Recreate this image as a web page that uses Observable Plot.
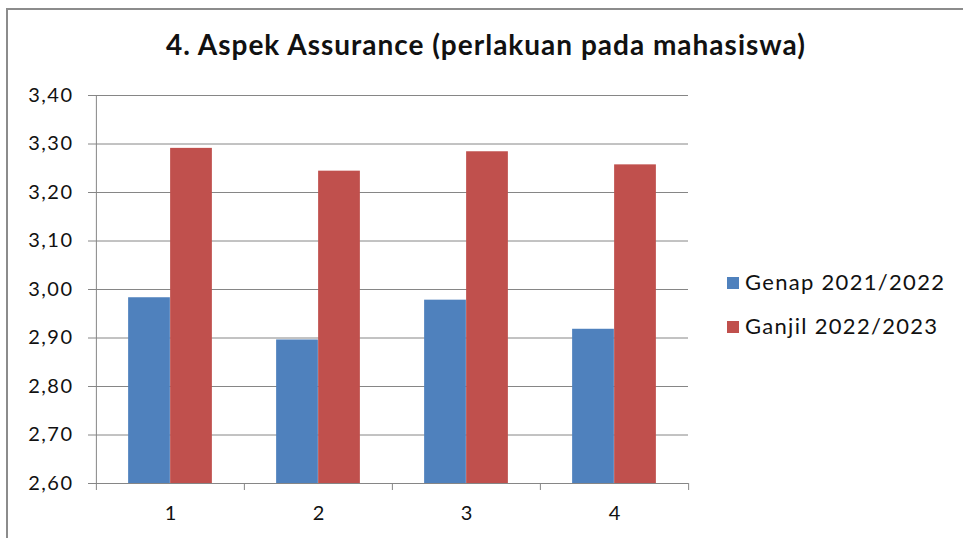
<!DOCTYPE html>
<html>
<head>
<meta charset="utf-8">
<script src="https://cdn.jsdelivr.net/npm/d3@7"></script>
<script src="https://cdn.jsdelivr.net/npm/@observablehq/plot@0.6"></script>
<style>
  html, body { margin: 0; padding: 0; background: #fff; }
  #wrap { position: relative; width: 963px; height: 538px; overflow: hidden; font-family: Lato, "Open Sans", sans-serif; }
  #frame { position: absolute; left: 6px; top: 8px; width: 1000px; height: 600px; border-left: 2px solid #8c8c8c; border-top: 2px solid #8c8c8c; }
  #chart { position: absolute; left: 0; top: 0; }
  #title { position: absolute; left: 0; width: 972px; top: 27px; text-align: center; font-weight: bold; font-size: 28px; letter-spacing: 1px; color: #111; }
  .leg { position: absolute; left: 727px; font-size: 22px; letter-spacing: 1.3px; color: #111; white-space: nowrap; }
  .leg span { display: inline-block; width: 12px; height: 12px; margin-right: 6px; vertical-align: 1px; }
  #chart svg g[aria-label="y-axis tick label"] text { letter-spacing: 1.5px; }
</style>
</head>
<body>
<div id="wrap">
  <div id="frame"></div>
  <div id="chart"></div>
  <div id="title"></div>
  <div id="legend"></div>
</div>
<script>
const title = "4. Aspek Assurance (perlakuan pada mahasiswa)";
const categories = ["1", "2", "3", "4"];
const series = ["Genap 2021/2022", "Ganjil 2022/2023"];
const genap = [2.983, 2.896, 2.978, 2.918];
const ganjil = [3.291, 3.244, 3.284, 3.257];
const yTicks = [2.6, 2.7, 2.8, 2.9, 3.0, 3.1, 3.2, 3.3, 3.4];
const colors = ["#4F81BD", "#C0504D"];

const data = categories.flatMap((c, i) => [
  {cat: c, series: series[0], value: genap[i]},
  {cat: c, series: series[1], value: ganjil[i]}
]);

const W = 963, H = 538, mL = 95, mR = 275, mT = 95, mB = 55;
const band = (W - mL - mR) / categories.length;
const barW = 42;
const outer = (band - 2 * barW) / 2;
const fmt = d => d.toFixed(2).replace(".", ",");
const gray = "#868686";

const chart = Plot.plot({
  width: W, height: H,
  marginLeft: mL, marginRight: mR, marginTop: mT, marginBottom: mB,
  style: {fontFamily: "Lato, 'Open Sans', sans-serif", background: "transparent", color: "#111"},
  x: {domain: categories, padding: 0, axis: null},
  y: {domain: [2.6, 3.4], axis: null},
  color: {domain: series, range: colors},
  marks: [
    Plot.gridY(yTicks, {stroke: gray, strokeOpacity: 1, strokeWidth: 1}),
    Plot.axisY(yTicks, {tickSize: 7, tickPadding: 15, fontSize: 20, tickFormat: fmt, label: null, stroke: gray}),
    Plot.barY(data.filter(d => d.series === series[0]), {x: "cat", y1: 2.6, y2: "value", fill: "series", insetLeft: outer, insetRight: band - outer - barW}),
    Plot.barY(data.filter(d => d.series === series[1]), {x: "cat", y1: 2.6, y2: "value", fill: "series", insetLeft: outer + barW, insetRight: outer}),
    Plot.ruleY([2.6], {stroke: gray}),
    Plot.ruleX(categories.slice(0, 1), {x: d => d, dx: -band / 2, stroke: gray}),
    Plot.ruleX(categories, {x: d => d, dx: -band / 2, stroke: gray, insetTop: H - mT - mB, insetBottom: -7}),
    Plot.ruleX(categories.slice(-1), {x: d => d, dx: band / 2, stroke: gray, insetTop: H - mT - mB, insetBottom: -7}),
    Plot.axisX({tickSize: 0, tickPadding: 22, fontSize: 20, label: null})
  ]
});
document.getElementById("chart").appendChild(chart);
document.getElementById("title").textContent = title;

const legend = document.getElementById("legend");
series.forEach((s, i) => {
  const div = document.createElement("div");
  div.className = "leg";
  div.style.top = (268 + i * 44) + "px";
  const sw = document.createElement("span");
  sw.style.background = colors[i];
  div.appendChild(sw);
  div.appendChild(document.createTextNode(s));
  legend.appendChild(div);
});
</script>
</body>
</html>
